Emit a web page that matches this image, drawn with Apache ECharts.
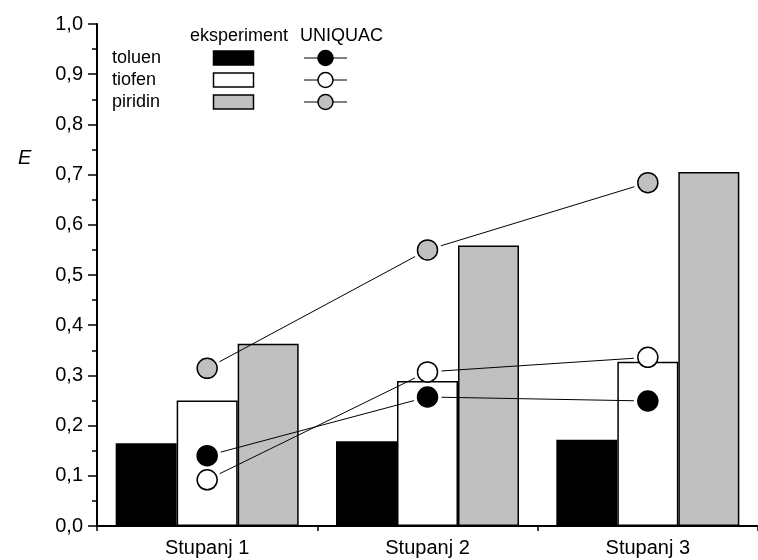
<!DOCTYPE html>
<html><head><meta charset="utf-8">
<script src="https://cdn.jsdelivr.net/npm/echarts@6/dist/echarts.min.js"></script>
<style>html,body{margin:0;padding:0;background:#fff}#c{width:758px;height:560px}</style>
</head><body><div id="c"></div>
<script>
const categories = ['Stupanj 1', 'Stupanj 2', 'Stupanj 3'];
const componentNames = ['toluen', 'tiofen', 'piridin'];
const legendHeaders = ['eksperiment', 'UNIQUAC'];
const yAxisName = 'E';
// experimental (bars)
const expToluen = [0.165, 0.169, 0.172];
const expTiofen = [0.250, 0.289, 0.327];
const expPiridin = [0.363, 0.559, 0.705];
// UNIQUAC (points)
const uniToluen = [0.140, 0.257, 0.249];
const uniTiofen = [0.092, 0.307, 0.336];
const uniPiridin = [0.314, 0.550, 0.684];

const fills = ['#000000', '#ffffff', '#c0c0c0'];
const FONT = 'Arial, "Liberation Sans", sans-serif';
const expAll = [expToluen, expTiofen, expPiridin];
const uniAll = [uniToluen, uniTiofen, uniPiridin];

function segs(arr) {
  const out = [];
  for (let i = 0; i < arr.length - 1; i++) out.push([i, arr[i], i + 1, arr[i + 1]]);
  return out;
}

const series = [];
expAll.forEach((d, k) => {
  series.push({
    type: 'bar', name: componentNames[k] + ' exp', data: d, barWidth: 61, barGap: '0%', z: 2,
    itemStyle: { color: fills[k], borderColor: '#000', borderWidth: 1.5 },
    silent: true
  });
});
uniAll.forEach((d, k) => {
  series.push({
    type: 'custom', name: componentNames[k] + ' line', data: segs(d), z: 3, silent: true,
    encode: { x: [0, 2], y: [1, 3] },
    renderItem: function (params, api) {
      const a = api.coord([api.value(0), api.value(1)]);
      const b = api.coord([api.value(2), api.value(3)]);
      const dx = b[0] - a[0], dy = b[1] - a[1], L = Math.hypot(dx, dy), g = 14;
      const ux = dx / L, uy = dy / L;
      return { type: 'line', shape: { x1: a[0] + ux * g, y1: a[1] + uy * g, x2: b[0] - ux * g, y2: b[1] - uy * g },
        style: { stroke: '#000', lineWidth: 1 } };
    }
  });
});
uniAll.forEach((d, k) => {
  series.push({
    type: 'scatter', name: componentNames[k] + ' UNIQUAC', data: d, symbol: 'circle', symbolSize: 20, z: 4, silent: true,
    itemStyle: { color: fills[k], borderColor: '#000', borderWidth: 1.5, opacity: 1 }
  });
});

// legend graphics
const graphic = [];
const rowY = [58, 80, 102];
graphic.push({ type: 'text', x: 190, y: 36, style: { text: legendHeaders[0], font: '18px ' + FONT, fill: '#000', verticalAlign: 'middle' } });
graphic.push({ type: 'text', x: 300, y: 36, style: { text: legendHeaders[1], font: '18px ' + FONT, fill: '#000', verticalAlign: 'middle' } });
componentNames.forEach((n, k) => {
  graphic.push({ type: 'text', x: 112, y: rowY[k], style: { text: n, font: '18px ' + FONT, fill: '#000', verticalAlign: 'middle' } });
  graphic.push({ type: 'rect', shape: { x: 213.5, y: rowY[k] - 7, width: 40, height: 14 },
    style: { fill: fills[k], stroke: '#000', lineWidth: 1.5 } });
  graphic.push({ type: 'line', shape: { x1: 304, y1: rowY[k], x2: 347, y2: rowY[k] }, style: { stroke: '#000', lineWidth: 1 } });
  graphic.push({ type: 'circle', shape: { cx: 325.5, cy: rowY[k], r: 7.5 }, style: { fill: fills[k], stroke: '#000', lineWidth: 1.5 } });
});
graphic.push({ type: 'text', x: 18, y: 158, style: { text: yAxisName, font: 'italic 20px ' + FONT, fill: '#000', verticalAlign: 'middle' } });

const chart = echarts.init(document.getElementById('c'), null, { renderer: 'canvas' });
chart.setOption({
  animation: false,
  backgroundColor: '#fff',
  grid: { left: 97, right: -18, top: 24, bottom: 34 },
  xAxis: [{
    type: 'category', data: categories, position: 'bottom',
    axisLine: { lineStyle: { color: '#000', width: 2 } },
    axisTick: { alignWithLabel: true, length: 9, lineStyle: { color: '#000', width: 1.5 } },
    axisLabel: { color: '#000', fontSize: 20, fontFamily: FONT, margin: 12 },
    splitLine: { show: false }
  }, {
    type: 'category', data: categories, position: 'bottom', offset: 0,
    axisLine: { show: false },
    axisTick: { show: true, length: 5, lineStyle: { color: '#000', width: 1.5 } },
    axisLabel: { show: false },
    splitLine: { show: false }
  }],
  yAxis: {
    type: 'value', min: 0, max: 1, interval: 0.1,
    axisLine: { show: true, lineStyle: { color: '#000', width: 2 } },
    axisTick: { show: true, length: 9, lineStyle: { color: '#000', width: 1.5 } },
    minorTick: { show: true, splitNumber: 2, length: 5, lineStyle: { color: '#000', width: 1.5 } },
    axisLabel: { color: '#000', fontSize: 20, fontFamily: FONT, margin: 14,
      formatter: v => v.toFixed(1).replace('.', ',') },
    splitLine: { show: false }
  },
  series: series,
  graphic: graphic
});
</script></body></html>
